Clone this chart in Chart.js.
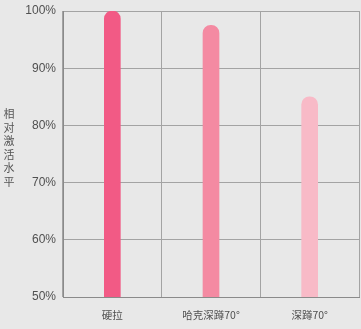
<!DOCTYPE html>
<html>
<head>
<meta charset="utf-8">
<script src="https://cdn.jsdelivr.net/npm/chart.js@4/dist/chart.umd.min.js"></script>
<style>
  html, body { margin: 0; padding: 0; background: #e8e8e8; }
  #wrap { width: 361px; height: 329px; position: relative; }
</style>
</head>
<body>
<div id="wrap"><canvas id="activation-chart"></canvas></div>
<script>
const exercises = ["硬拉", "哈克深蹲70°", "深蹲70°"];
const activation = [100, 97.5, 85];
const barColors = ["#f25a85", "#f48aa2", "#f8bac7"];
const yTicks = [50, 60, 70, 80, 90, 100];
const yTitle = "相对激活水平";

const tickFont = { size: 12, family: "'Liberation Sans Narrow', 'Liberation Sans', sans-serif" };
const labelFont = { size: 10.5, family: "'Noto Sans CJK SC', 'Noto Sans', sans-serif" };

// vertical axis title, characters stacked upright
const stackedTitle = {
  id: "stackedTitle",
  afterDraw(chart) {
    const ctx = chart.ctx;
    ctx.save();
    ctx.fillStyle = "#555";
    ctx.font = "11px 'Noto Sans CJK SC', sans-serif";
    ctx.textAlign = "center";
    ctx.textBaseline = "middle";
    const chars = Array.from(yTitle);
    const step = 13.5;
    const y0 = 114;
    chars.forEach((c, i) => ctx.fillText(c, 9, y0 + i * step));
    ctx.restore();
  },
};

const ctx = document.getElementById("activation-chart").getContext("2d");

new Chart(ctx, {
  type: "bar",
  data: {
    labels: exercises,
    datasets: [
      {
        data: activation,
        backgroundColor: barColors,
        barThickness: 16,
        borderRadius: 8,
        borderSkipped: false,
      },
    ],
  },
  options: {
    responsive: true,
    maintainAspectRatio: false,
    animation: false,
    layout: { padding: { top: 11, right: 2, left: 0, bottom: 0 } },
    plugins: {
      legend: { display: false },
      tooltip: { enabled: false },
    },
    scales: {
      y: {
        min: 50,
        max: 100,
        afterFit: (scale) => {
          scale.width = 63;
          scale.paddingTop = 0;
          scale.paddingBottom = 0;
        },
        afterBuildTicks: (scale) => { scale.ticks = yTicks.map((v) => ({ value: v })); },
        grid: { color: "#a3a3a3", lineWidth: 1, drawTicks: false },
        border: { color: "#8a8a8a", width: 1 },
        ticks: {
          color: "#505050",
          padding: 7,
          font: tickFont,
          callback: (v) => v + "%",
        },
      },
      x: {
        afterFit: (scale) => { scale.height = 32; },
        grid: { color: "#a3a3a3", lineWidth: 1, drawTicks: false },
        border: { color: "#8a8a8a", width: 1 },
        ticks: {
          color: "#505050",
          padding: 12,
          font: labelFont,
        },
      },
    },
  },
  plugins: [stackedTitle],
});
</script>
</body>
</html>
